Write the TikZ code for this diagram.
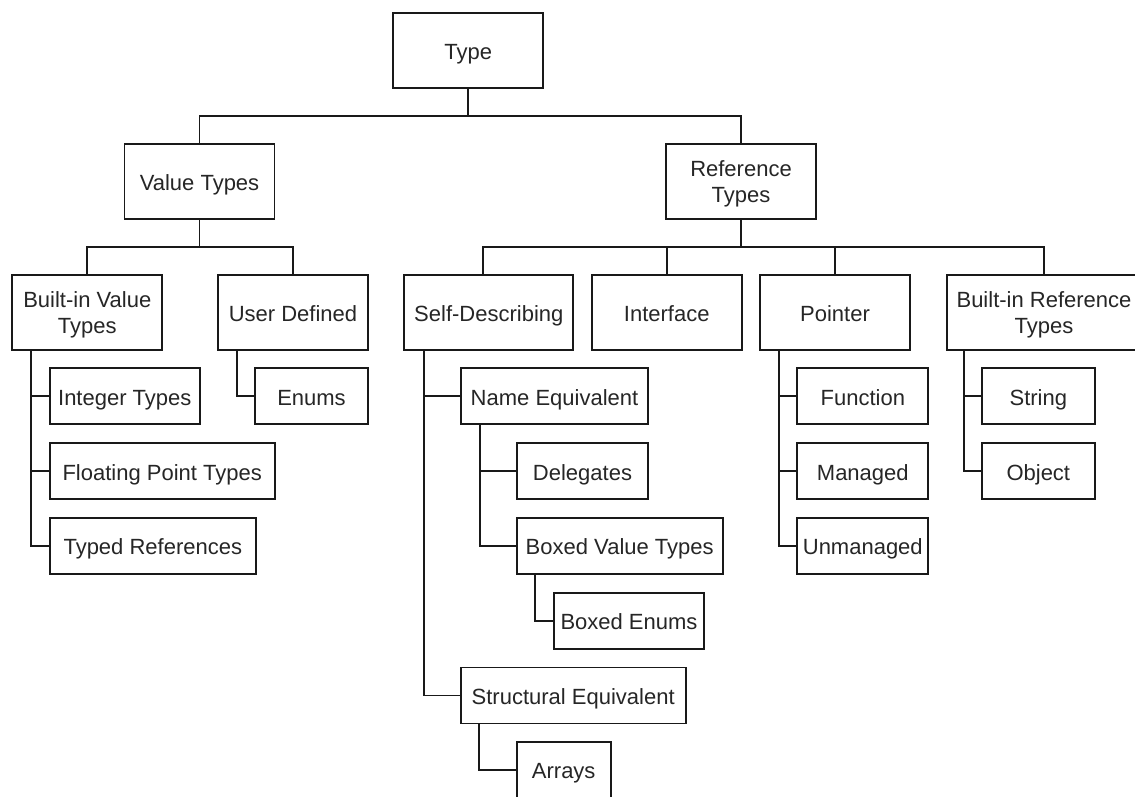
\documentclass[tikz,border=0pt]{standalone}
\usepackage{fontspec}
\setmainfont{Liberation Sans}
\usetikzlibrary{calc}
\colorlet{background}{white}
\colorlet{penColor}{black!90}
\colorlet{textColor}{black!85}
\newcommand{\boxstrut}{\rule{0pt}{21pt}}
\tikzset{
  box/.style={draw=penColor, line width=1.7pt, fill=background, text=textColor,
    inner sep=0pt, outer sep=0pt, align=center, font=\fontsize{22}{26}\selectfont},
  oneline/.style={text height=21pt, text depth=3.6pt},
  big/.style={box, minimum width=150pt, minimum height=75pt},
  leaf/.style={box, oneline, minimum height=56pt},
  link/.style={draw=penColor, line width=1.7pt}
}

\begin{document}
\begin{tikzpicture}[x=1pt,y=-1pt]
  \useasboundingbox (0,0) rectangle (1135,796);
  % root and first level
  \node[big,oneline] (type) at (468.3,50.8) {Type};
  \node[big,oneline] (vt) at (199.5,181.5) {Value Types};
  \node[big] (rt) at (741,181.5) {\boxstrut Reference\\Types};
  % second level
  \node[big] (biv) at (87.3,312.5) {\boxstrut Built-in Value\\Types};
  \node[big,oneline] (ud) at (293,312.5) {User Defined};
  \node[big,oneline,minimum width=169pt] (sd) at (488.8,312.5) {Self-Describing};
  \node[big,oneline] (itf) at (666.7,312.5) {Interface};
  \node[big,oneline] (ptr) at (835,312.5) {Pointer};
  \node[big,minimum width=194.7pt] (bir) at (1044,312.5) {\boxstrut Built-in Reference\\Types};
  % value type leaves
  \node[leaf,minimum width=150.3pt] (int) at (124.8,396.3) {Integer Types};
  \node[leaf,minimum width=225pt] (flt) at (162.2,471.3) {Floating Point Types};
  \node[leaf,minimum width=206.3pt] (tref) at (152.8,546) {Typed References};
  \node[leaf,minimum width=113pt] (enm) at (311.5,396.3) {Enums};
  % self-describing leaves
  \node[leaf,minimum width=187.6pt] (neq) at (554.5,396.3) {Name Equivalent};
  \node[leaf,minimum width=131.6pt] (del) at (582.5,471.3) {Delegates};
  \node[leaf,minimum width=206pt] (bvt) at (619.7,546) {Boxed Value Types};
  \node[leaf,minimum width=150pt] (ben) at (629,620.8) {Boxed Enums};
  \node[leaf,minimum width=225pt] (seq) at (573.2,695.5) {Structural Equivalent};
  \node[leaf,minimum width=94pt] (arr) at (563.7,770) {Arrays};
  % pointer and built-in reference leaves
  \node[leaf,minimum width=131pt] (fun) at (862.8,396.3) {Function};
  \node[leaf,minimum width=131pt] (mgd) at (862.8,471.3) {Managed};
  \node[leaf,minimum width=131pt] (umg) at (862.8,546) {Unmanaged};
  \node[leaf,minimum width=112.7pt] (str) at (1038.3,396.3) {String};
  \node[leaf,minimum width=112.7pt] (obj) at (1038.3,471.3) {Object};

  % top down connectors
  \draw[link] (type.south) |- ($(type.south)!.5!(vt.north)$) -| (vt.north);
  \draw[link] (type.south) |- ($(type.south)!.5!(rt.north)$) -| (rt.north);
  \draw[link] (vt.south) |- ($(vt.south)!.5!(biv.north)$) -| (biv.north);
  \draw[link] (vt.south) |- ($(vt.south)!.5!(ud.north)$) -| (ud.north);
  \draw[link] (rt.south) |- ($(rt.south)!.5!(sd.north)$) -| ([xshift=-5.5pt]sd.north);
  \draw[link] (rt.south) |- ($(rt.south)!.5!(itf.north)$) -| (itf.north);
  \draw[link] (rt.south) |- ($(rt.south)!.5!(ptr.north)$) -| (ptr.north);
  \draw[link] (rt.south) |- ($(rt.south)!.5!(bir.north)$) -| (bir.north);

  % side connectors
  \draw[link] ([xshift=19pt]biv.south west) |- (int.west);
  \draw[link] ([xshift=19pt]biv.south west) |- (flt.west);
  \draw[link] ([xshift=19pt]biv.south west) |- (tref.west);
  \draw[link] ([xshift=18.7pt]ud.south west) |- (enm.west);
  \draw[link] ([xshift=19.7pt]sd.south west) |- (neq.west);
  \draw[link] ([xshift=19.7pt]sd.south west) |- (seq.west);
  \draw[link] ([xshift=19.3pt]neq.south west) |- (del.west);
  \draw[link] ([xshift=19.3pt]neq.south west) |- (bvt.west);
  \draw[link] ([xshift=18.3pt]bvt.south west) |- (ben.west);
  \draw[link] ([xshift=18.6pt]seq.south west) |- (arr.west);
  \draw[link] ([xshift=19pt]ptr.south west) |- (fun.west);
  \draw[link] ([xshift=19pt]ptr.south west) |- (mgd.west);
  \draw[link] ([xshift=19pt]ptr.south west) |- (umg.west);
  \draw[link] ([xshift=17.3pt]bir.south west) |- (str.west);
  \draw[link] ([xshift=17.3pt]bir.south west) |- (obj.west);
\end{tikzpicture}
\end{document}
